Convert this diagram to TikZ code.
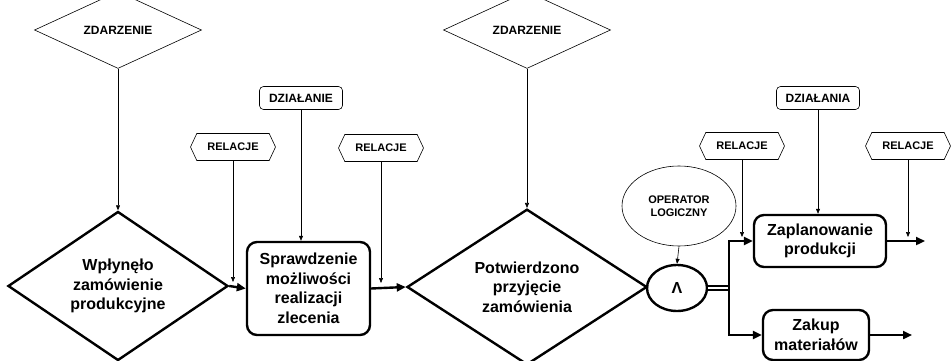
\documentclass[tikz,border=0pt]{standalone}
\usepackage{fontspec}
\setmainfont{Liberation Sans}
\usetikzlibrary{shapes.geometric,shapes.symbols,arrows.meta}

\begin{document}
\begin{tikzpicture}[x=1pt,y=-1pt,
  bigtext/.style={font=\fontsize{16}{19.5}\selectfont\bfseries, align=center},
  smalltext/.style={font=\fontsize{11}{13.5}\selectfont\bfseries, align=center},
  labeltext/.style={font=\fontsize{12}{14}\selectfont\bfseries, align=center},
  event/.style={diamond, draw, line width=0.6pt, minimum width=167pt,
    minimum height=44pt, inner sep=0pt, labeltext},
  decision/.style={diamond, draw, line width=2.4pt, inner sep=0pt, bigtext},
  action/.style={rectangle, rounded corners=10pt, draw, line width=2.4pt,
    inner sep=0pt, bigtext},
  actlabel/.style={rectangle, rounded corners=4pt, draw, line width=0.6pt,
    minimum width=83pt, minimum height=23pt, inner sep=0pt, labeltext},
  relation/.style={signal, signal to=west and east, signal pointer angle=130,
    draw, line width=0.6pt, minimum width=85pt, minimum height=27pt,
    inner sep=0pt, smalltext},
  operator/.style={ellipse, draw, line width=0.6pt, inner sep=0pt, smalltext},
  gate/.style={ellipse, draw, line width=2.4pt, inner sep=0pt, bigtext},
  flow/.style={line width=2.4pt, -{Triangle[length=9pt,width=8pt]}},
  link/.style={line width=0.6pt, -{Triangle[length=5pt,width=4pt]}},
  dbl/.style={line width=1.8pt, double distance=1.5pt}]

% page
\fill[white] (0,0) rectangle (951,361);
\useasboundingbox (0,0) rectangle (951,361);

% first event and decision
\node[event] (ev1) at (118,30) {ZDARZENIE};
\node[decision, minimum width=220pt, minimum height=131pt] (d1) at (118,286)
  {Wpłynęło\\zamówienie\\produkcyjne};
\node[relation] (rel1) at (233,147) {RELACJE};
\node[actlabel] (act1) at (301,98) {DZIAŁANIE};
\node[action, minimum width=123pt, minimum height=93pt] (b1) at (308.5,288.5)
  {Sprawdzenie\\możliwości\\realizacji\\zlecenia};
\node[relation] (rel2) at (381,148) {RELACJE};

% second event and decision
\node[event] (ev2) at (527,30) {ZDARZENIE};
\node[decision, minimum width=240pt, minimum height=131pt] (d2) at (527,287)
  {Potwierdzono\\przyjęcie\\zamówienia};

% logical operator
\node[operator, minimum width=114pt, minimum height=80pt] (op) at (679,206)
  {OPERATOR\\LOGICZNY};
\node[gate, minimum width=60pt, minimum height=46pt] (and) at (677,288) {Λ};

% parallel actions
\node[relation] (rel3) at (742,146) {RELACJE};
\node[actlabel] (act2) at (818,98) {DZIAŁANIA};
\node[action, minimum width=132pt, minimum height=52pt] (b2) at (820,241)
  {Zaplanowanie\\produkcji};
\node[relation] (rel4) at (908,146) {RELACJE};
\node[action, minimum width=106pt, minimum height=50pt] (b3) at (816,335)
  {Zakup\\materiałów};

\coordinate (split) at (729,288);
\coordinate (out2) at (925,241);
\coordinate (out3) at (912,335);

% main flow
\draw[flow] (d1.east) -- (b1.west);
\draw[flow] (b1.east) -- (d2.west);
\draw[dbl] (and.east) -- (split);
\draw[flow] (split) |- (b2.west);
\draw[flow] (split) |- (b3.west);
\draw[flow] (b2.east) -- (out2);
\draw[flow] (b3.east) -- (out3);

% context links
\draw[link] (ev1.south) -- (d1.north);
\draw[link] (ev2.south) -- (d2.north);
\draw[link] (act1.south) -- (act1.south |- b1.north);
\draw[link] (act2.south) -- (act2.south |- b2.north);
\draw[link] (op.south) -- (and.north);
\draw[link, shorten >=4pt] (rel1.south) -- (rel1.south |- d1.east);
\draw[link, shorten >=4pt] (rel2.south) -- (rel2.south |- d2.west);
\draw[link, shorten >=4pt] (rel3.south) -- (rel3.south |- b2.west);
\draw[link, shorten >=4pt] (rel4.south) -- (rel4.south |- b2.east);
\end{tikzpicture}
\end{document}
